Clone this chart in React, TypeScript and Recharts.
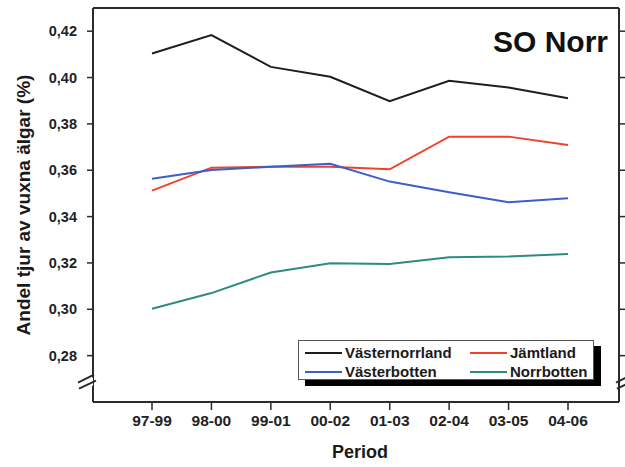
import React from 'react';
import { LineChart, Line, XAxis, YAxis, Legend } from 'recharts';

const periods = ['97-99', '98-00', '99-01', '00-02', '01-03', '02-04', '03-05', '04-06'];
const seriesNames = ['Västernorrland', 'Jämtland', 'Västerbotten', 'Norrbotten'];
const vasternorrland = [0.4104, 0.4183, 0.4046, 0.4003, 0.3898, 0.3986, 0.3957, 0.3911];
const jamtland = [0.3512, 0.3611, 0.3615, 0.3615, 0.3604, 0.3745, 0.3745, 0.3709];
const vasterbotten = [0.3563, 0.3601, 0.3615, 0.3628, 0.3551, 0.3505, 0.3462, 0.3479];
const norrbotten = [0.3002, 0.307, 0.3159, 0.3199, 0.3195, 0.3225, 0.3228, 0.3239];
const yTicks = [0.28, 0.3, 0.32, 0.34, 0.36, 0.38, 0.4, 0.42];
const BREAK = 0.2688;

const FONT = '"Liberation Sans", Arial, sans-serif';
const AXIS = '#2b2b2b';

const data = periods.map((period, i) => ({
  period,
  vn: vasternorrland[i],
  jl: jamtland[i],
  vb: vasterbotten[i],
  nb: norrbotten[i],
}));

const allTicks = [BREAK, ...yTicks];
const fmt = (v: number) => v.toFixed(2).replace('.', ',');

// the // mark drawn across an axis line
const AxisBreak = ({ ax, cy }: { ax: number; cy: number }) => (
  <g>
    <rect x={ax - 4} y={cy - 4} width={10} height={8} fill="#fff" />
    <line x1={ax - 9} y1={cy + 1} x2={ax + 7} y2={cy - 7} stroke={AXIS} strokeWidth={2} />
    <line x1={ax - 8} y1={cy + 7} x2={ax + 9} y2={cy - 1} stroke={AXIS} strokeWidth={2} />
  </g>
);

// tick label x sits 10px left of the axis line (tickMargin 10, no tick line)
const LeftTick = (props: any) => {
  const { x, y, payload } = props;
  const ax = x + 10;
  if (payload.value === BREAK) return <AxisBreak ax={ax} cy={y} />;
  return (
    <g>
      <line x1={ax} y1={y} x2={ax + 6} y2={y} stroke={AXIS} strokeWidth={1.5} />
      <text x={x} y={y} dy="0.355em" textAnchor="end" fill="#222" fontSize={14.5} fontWeight="bold" fontFamily={FONT}>
        {fmt(payload.value)}
      </text>
    </g>
  );
};

const RightTick = (props: any) => {
  const { x, y, payload } = props;
  if (payload.value === BREAK) return <AxisBreak ax={x} cy={y} />;
  return <line x1={x - 6} y1={y} x2={x} y2={y} stroke={AXIS} strokeWidth={1.5} />;
};

const BottomTick = (props: any) => {
  const { x, y, payload } = props;
  return (
    <text x={x} y={y} dy="0.71em" textAnchor="middle" fill="#222" fontSize={15.5} fontWeight="bold" fontFamily={FONT}>
      {payload.value}
    </text>
  );
};

const renderLegend = ({ payload }: any) => {
  const items = seriesNames
    .map((n) => (payload || []).find((e: any) => e.value === n))
    .filter(Boolean);
  return (
    <div
      style={{
        boxSizing: 'border-box',
        width: 296,
        height: 40,
        border: '1px solid #555',
        background: '#fff',
        boxShadow: '7px 6px 0 #000',
        padding: '2px 0 0 6px',
        display: 'grid',
        gridTemplateColumns: '165px 120px',
        gridAutoRows: '19px',
        fontFamily: FONT,
        fontWeight: 'bold',
        fontSize: 15,
        color: '#1a1a1a',
      }}
    >
      {items.map((entry: any) => (
        <div key={entry.value} style={{ display: 'flex', alignItems: 'center', whiteSpace: 'nowrap' }}>
          <span style={{ display: 'inline-block', width: 37, height: 2, background: entry.color, marginRight: 3 }} />
          {entry.value}
        </div>
      ))}
    </div>
  );
};

export default function App() {
  return (
    <div style={{ position: 'absolute', left: 0, top: 0, width: 625, height: 467, background: '#fff' }}>
      <LineChart width={625} height={467} data={data} margin={{ top: 7, right: 0, bottom: 0, left: 0 }}>
        <XAxis
          xAxisId="bottom"
          dataKey="period"
          height={65}
          interval={0}
          padding={{ left: 59, right: 51 }}
          tickSize={8}
          tickMargin={5}
          axisLine={{ stroke: AXIS, strokeWidth: 2 }}
          tickLine={{ stroke: AXIS, strokeWidth: 1.5 }}
          tick={<BottomTick />}
          label={(p: any) => {
            const vb = p.viewBox;
            return (
              <text x={vb.x + vb.width / 2 + 4} y={458} textAnchor="middle" fill="#1a1a1a" fontSize={18} fontWeight="bold" fontFamily={FONT}>
                Period
              </text>
            );
          }}
        />
        <XAxis
          xAxisId="top"
          orientation="top"
          dataKey="period"
          height={1}
          tick={false}
          tickLine={false}
          axisLine={{ stroke: AXIS, strokeWidth: 2 }}
        />
        <YAxis
          yAxisId="left"
          type="number"
          width={93}
          domain={[0.26, 0.43]}
          ticks={allTicks}
          interval={0}
          allowDataOverflow
          tickLine={false}
          tickMargin={10}
          axisLine={{ stroke: AXIS, strokeWidth: 2 }}
          tick={<LeftTick />}
          label={(p: any) => {
            const vb = p.viewBox;
            const cy = vb.y + vb.height / 2;
            return (
              <text x={30} y={cy} transform={`rotate(-90 30 ${cy})`} textAnchor="middle" fill="#1a1a1a" fontSize={19} fontWeight="bold" fontFamily={FONT}>
                Andel tjur av vuxna älgar (%)
              </text>
            );
          }}
        />
        <YAxis
          yAxisId="right"
          orientation="right"
          type="number"
          width={6}
          domain={[0.26, 0.43]}
          ticks={allTicks}
          interval={0}
          allowDataOverflow
          tickLine={false}
          tickMargin={0}
          axisLine={{ stroke: AXIS, strokeWidth: 2 }}
          tick={<RightTick />}
        />
        <Legend
          layout="vertical"
          align="center"
          verticalAlign="middle"
          content={renderLegend}
          wrapperStyle={{ position: 'absolute', left: 298, top: 340, width: 296, height: 40, margin: 0 }}
        />
        <Line xAxisId="bottom" yAxisId="left" name={seriesNames[0]} dataKey="vn" stroke="#1e1e1e" strokeWidth={2} dot={false} isAnimationActive={false} />
        <Line xAxisId="bottom" yAxisId="left" name={seriesNames[1]} dataKey="jl" stroke="#f2412b" strokeWidth={2} dot={false} isAnimationActive={false} />
        <Line xAxisId="bottom" yAxisId="left" name={seriesNames[2]} dataKey="vb" stroke="#3b5fc8" strokeWidth={2} dot={false} isAnimationActive={false} />
        <Line xAxisId="bottom" yAxisId="left" name={seriesNames[3]} dataKey="nb" stroke="#2e8b84" strokeWidth={2} dot={false} isAnimationActive={false} />
      </LineChart>
      <div
        style={{
          position: 'absolute',
          left: 493,
          top: 27,
          fontFamily: FONT,
          fontWeight: 'bold',
          fontSize: 30,
          lineHeight: '30px',
          color: '#111',
          whiteSpace: 'nowrap',
        }}
      >
        SO Norr
      </div>
    </div>
  );
}
